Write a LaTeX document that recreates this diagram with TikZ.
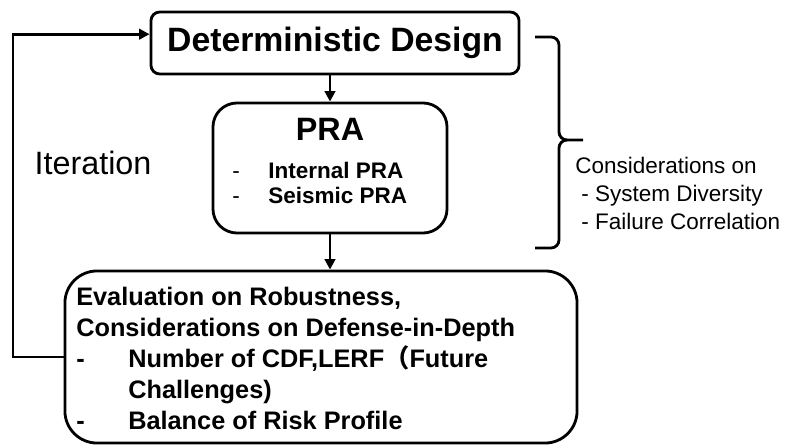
\documentclass[tikz,border=0pt]{standalone}
\usepackage{fontspec}
\setmainfont{Liberation Sans}
\newfontfamily\cjkfont{Noto Sans CJK JP}
\usetikzlibrary{math,arrows.meta}

\tikzset{
    stagebox/.style = {draw, line width = 2pt, rounded corners = #1, inner sep = 0pt},
    flowline/.style = {line width = 2pt, -{Triangle[length=2.6mm,width=2.6mm]}},
}

\begin{document}
\begin{tikzpicture}[x = 0.025cm, y = -0.025cm]
    \tikzmath{
        \xval = 802;
        \yval = 445;
        \xloop = 13;
    }

% marco
\useasboundingbox (0, 0) rectangle (\xval, \yval);

% Cajas
\node[stagebox = 0.22cm,
        minimum width = 9.2cm,
        minimum height = 1.55cm,
        font = \bfseries\fontsize{24}{28}\selectfont] (design) at (335, 43) {Deterministic Design};

\node[stagebox = 0.6cm,
        minimum width = 5.85cm,
        minimum height = 3.25cm] (pra) at (330, 168) {};

\node[stagebox = 0.8cm,
        minimum width = 12.8cm,
        minimum height = 4.3cm] (eval) at (321, 357) {};

% Textos de las cajas
\node[font = \bfseries\fontsize{23}{27}\selectfont] (pratitle) at (330, 129) {PRA};

\node[%
        anchor = north west,
        inner sep = 0pt,
        align = left,
        font = \bfseries\fontsize{16}{17.8}\selectfont,
    ] (pralist) at (232, 162)
    {\makebox[0.9cm][l]{\mdseries -}Internal PRA\\
     \makebox[0.9cm][l]{\mdseries -}Seismic PRA};

\node[%
        anchor = north west,
        inner sep = 0pt,
        align = left,
        font = \bfseries\fontsize{18}{22}\selectfont,
    ] (evallist) at (76, 287)
    {Evaluation on Robustness,\\
     Considerations on Defense-in-Depth\\
     \makebox[1.3cm][l]{-}Number of CDF,LERF{\cjkfont （}Future\\
     \makebox[1.3cm][l]{}Challenges)\\
     \makebox[1.3cm][l]{-}Balance of Risk Profile};

% Flechas
\draw[flowline] (design.south -| pra.north) -- (pra.north);
\draw[flowline] (pra.south) -- (eval.north -| pra.south);
\draw[flowline] (eval.west) -- (\xloop, 357) |- ([yshift = 0.22cm]design.west);

\node[font = \fontsize{23}{27}\selectfont] (iter) at (93, 163) {Iteration};

% Llave
\draw[line width = 2pt, rounded corners = 0.2cm]
    (535, 37) -- (559, 37) -- (559, 140) -- (583, 140);
\draw[line width = 2pt, rounded corners = 0.2cm]
    (566, 140) -- (559, 140) -- (559, 248) -- (535, 248);

\node[%
        anchor = north west,
        inner sep = 0pt,
        align = left,
        font = \fontsize{16}{20}\selectfont,
    ] (notes) at (575, 157)
    {Considerations on\\
     \hspace*{0.15cm}- System Diversity\\
     \hspace*{0.15cm}- Failure Correlation};

\end{tikzpicture}
\end{document}
